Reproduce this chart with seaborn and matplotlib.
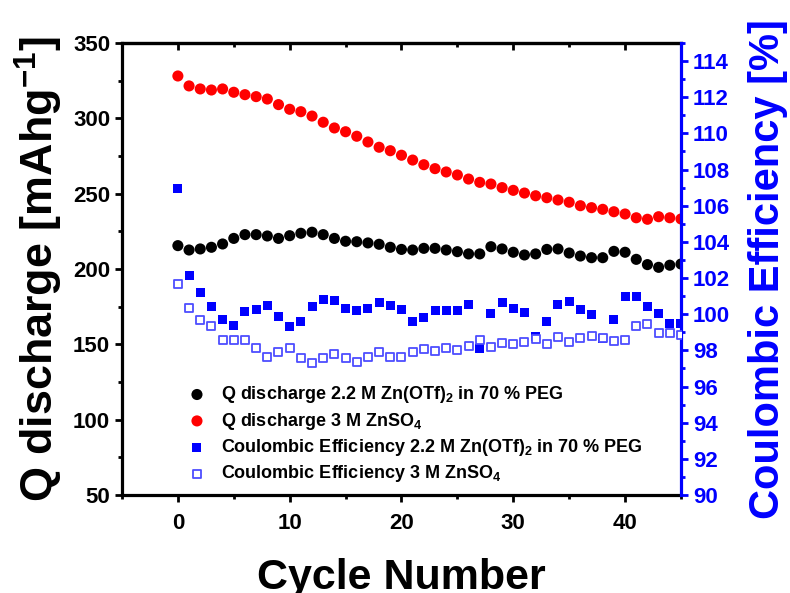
import matplotlib
matplotlib.use("Agg")
import matplotlib.pyplot as plt
import numpy as np
import pandas as pd
import seaborn as sns
from matplotlib.ticker import MultipleLocator

cycles = list(range(46))
q_peg = [215.5, 212.6, 213.3, 214.4, 216.6, 220.3, 222.8, 222.8, 221.9, 220.3,
         222.1, 223.7, 224.4, 222.8, 220.3, 218.4, 218.1, 217.3, 216.4, 214.4,
         213.0, 212.6, 213.7, 213.7, 212.6, 211.5, 210.0, 210.0, 214.8, 213.3,
         211.1, 209.3, 210.0, 213.0, 213.3, 210.6, 208.6, 207.5, 207.5, 211.7,
         211.1, 206.4, 202.9, 201.1, 202.5, 203.3]
q_znso4 = [328.1, 321.5, 319.5, 318.8, 319.5, 317.3, 315.7, 314.4, 312.8, 309.1,
           306.0, 304.4, 301.5, 297.4, 293.6, 291.1, 288.1, 284.3, 280.8, 278.5,
           275.5, 272.3, 269.2, 266.6, 264.4, 262.4, 259.7, 257.5, 256.4, 254.0,
           252.2, 250.4, 248.6, 247.3, 245.8, 244.3, 242.0, 240.7, 239.6, 238.0,
           236.5, 234.0, 233.0, 234.7, 234.0, 233.2]
ce_peg = [106.96, 102.13, 101.19, 100.40, 99.68, 99.38, 100.14, 100.27, 100.47, 99.88,
          99.31, 99.57, 100.44, 100.79, 100.73, 100.33, 100.23, 100.34, 100.62, 100.47,
          100.27, 99.59, 99.81, 100.23, 100.23, 100.18, 100.56, 98.11, 100.05, 100.66,
          100.30, 100.07, 98.79, 99.62, 100.55, 100.69, 100.27, 99.96, 98.67, 99.68,
          100.97, 100.97, 100.42, 100.05, 99.50, 99.50]
ce_znso4 = [101.67, 100.36, 99.66, 99.36, 98.57, 98.57, 98.57, 98.15, 97.61, 97.91,
            98.11, 97.59, 97.28, 97.56, 97.81, 97.58, 97.37, 97.61, 97.93, 97.61,
            97.61, 97.91, 98.06, 97.98, 98.11, 98.02, 98.22, 98.57, 98.17, 98.42,
            98.33, 98.48, 98.63, 98.33, 98.72, 98.48, 98.70, 98.81, 98.67, 98.54,
            98.57, 99.35, 99.46, 98.98, 98.94, 98.85]

labels = ["Q discharge 2.2 M Zn(OTf)$_2$ in 70 % PEG",
          "Q discharge 3 M ZnSO$_4$",
          "Coulombic Efficiency 2.2 M Zn(OTf)$_2$ in 70 % PEG",
          "Coulombic Efficiency 3 M ZnSO$_4$"]

df = pd.DataFrame({"cycle": cycles, "q_peg": q_peg, "q_znso4": q_znso4,
                   "ce_peg": ce_peg, "ce_znso4": ce_znso4})

sns.set_style("ticks")
plt.rcParams["font.family"] = ["Liberation Sans", "DejaVu Sans"]
plt.rcParams["font.weight"] = "bold"
plt.rcParams["mathtext.fontset"] = "custom"
plt.rcParams["mathtext.rm"] = "Liberation Sans:bold"
plt.rcParams["mathtext.it"] = "Liberation Sans:bold"
plt.rcParams["mathtext.bf"] = "Liberation Sans:bold"
plt.rcParams["mathtext.default"] = "bf"
plt.rcParams["text.color"] = "black"
plt.rcParams["axes.labelcolor"] = "black"
plt.rcParams["xtick.color"] = "black"
plt.rcParams["ytick.color"] = "black"

blue = "#0000ff"
fig = plt.figure(figsize=(7.9, 5.93), dpi=100)
ax = fig.add_axes([0.1544, 0.1653, 0.7076, 0.7622])
ax2 = ax.twinx()

sns.scatterplot(data=df, x="cycle", y="q_peg", ax=ax, color="black", s=64,
                edgecolor="none", legend=False, label=labels[0], zorder=3)
sns.scatterplot(data=df, x="cycle", y="q_znso4", ax=ax, color="#ff0000", s=64,
                edgecolor="none", legend=False, label=labels[1], zorder=3)
sns.scatterplot(data=df, x="cycle", y="ce_peg", ax=ax2, color=blue, marker="s", s=42,
                edgecolor="none", legend=False, label=labels[2], zorder=3)
sns.scatterplot(data=df, x="cycle", y="ce_znso4", ax=ax2, color="white", marker="s", s=40,
                edgecolor="#4d4dff", linewidth=1.3, legend=False, label=labels[3], zorder=4)

ax.set_xlim(-5, 45)
ax.set_ylim(50, 350)
ax2.set_ylim(90, 115)

ax.xaxis.set_major_locator(MultipleLocator(10))
ax.xaxis.set_minor_locator(MultipleLocator(5))
ax.yaxis.set_major_locator(MultipleLocator(50))
ax.yaxis.set_minor_locator(MultipleLocator(25))
ax2.yaxis.set_major_locator(MultipleLocator(2))
ax2.yaxis.set_minor_locator(MultipleLocator(1))
ax2.set_yticks(np.arange(90, 115, 2))

lw = 2.3
for s in ["left", "bottom", "top"]:
    ax.spines[s].set_linewidth(lw)
    ax.spines[s].set_color("black")
ax.spines["right"].set_visible(False)
for s in ["left", "bottom", "top"]:
    ax2.spines[s].set_visible(False)
ax2.spines["right"].set_linewidth(lw)
ax2.spines["right"].set_color(blue)

ax.tick_params(axis="both", which="major", direction="out", length=5, width=2,
               labelsize=16, colors="black")
ax.tick_params(axis="x", which="major", pad=8)
ax.tick_params(axis="both", which="minor", direction="out", length=3, width=2)
ax2.tick_params(axis="y", which="major", direction="out", length=5, width=2,
                labelsize=16, colors=blue)
ax2.tick_params(axis="y", which="minor", direction="out", length=3, width=2, colors=blue)
for t in ax.get_xticklabels() + ax.get_yticklabels() + ax2.get_yticklabels():
    t.set_fontweight("bold")

top = ax.secondary_xaxis("top")
top.xaxis.set_major_locator(MultipleLocator(10))
top.xaxis.set_minor_locator(MultipleLocator(5))
top.tick_params(which="major", direction="in", length=5, width=2, labeltop=False)
top.tick_params(which="minor", direction="in", length=3, width=2)
top.spines["top"].set_linewidth(lw)

ax.set_xlabel("Cycle Number", fontsize=31, fontweight="bold", labelpad=17)
ax.set_ylabel("Q discharge [mAhg$^{-1}$]", fontsize=32.3, fontweight="bold", labelpad=6)
ax2.set_ylabel("Coulombic Efficiency [%]", fontsize=30, fontweight="bold", color=blue,
               labelpad=13)

h1, l1 = ax.get_legend_handles_labels()
h2, l2 = ax2.get_legend_handles_labels()
leg = ax2.legend(h1 + h2, l1 + l2, loc="upper left", bbox_to_anchor=(0.118, 0.245),
                 frameon=False, fontsize=13, handlelength=1.0, handletextpad=0.85,
                 labelspacing=0.3, borderpad=0, borderaxespad=0)
for t in leg.get_texts():
    t.set_fontweight("bold")

fig.savefig("out.png", dpi=100)
